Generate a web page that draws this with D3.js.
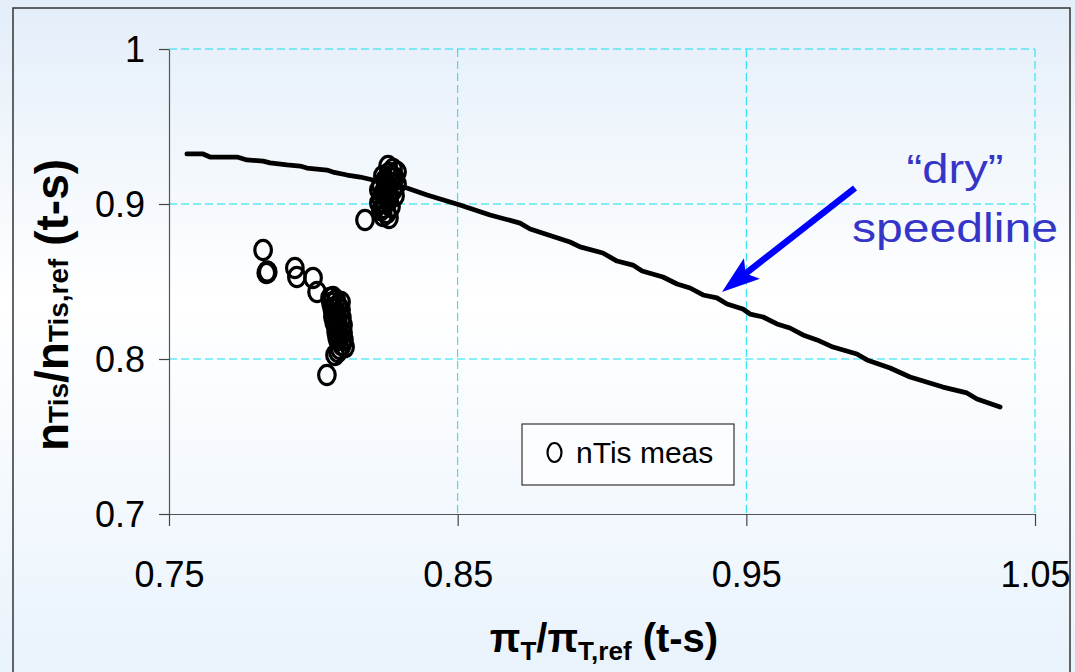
<!DOCTYPE html>
<html>
<head>
<meta charset="utf-8">
<script src="https://cdn.jsdelivr.net/npm/d3@7"></script>
<style>
  html, body { margin: 0; padding: 0; background: #ffffff; }
  svg { display: block; }
  text { font-family: "Liberation Sans", Arial, sans-serif; }
</style>
</head>
<body>
<svg id="chart" width="1075" height="672"></svg>
<script>
// ---- data ----
const xTickValues = [0.75, 0.85, 0.95, 1.05];
const xTickLabels = ["0.75", "0.85", "0.95", "1.05"];
const yTickValues = [0.7, 0.8, 0.9, 1.0];
const yTickLabels = ["0.7", "0.8", "0.9", "1"];

// "dry" speedline
const lineX = [0.7562, 0.7618, 0.7642, 0.7736, 0.7770, 0.7826, 0.7850, 0.7909, 0.7954, 0.7978,
  0.8047, 0.8068, 0.8117, 0.8162, 0.8207, 0.8324, 0.8394, 0.8508, 0.8612, 0.8716,
  0.8751, 0.8889, 0.8924, 0.9003, 0.9052, 0.9107, 0.9139, 0.9211, 0.9260, 0.9305,
  0.9350, 0.9398, 0.9433, 0.9488, 0.9513, 0.9558, 0.9606, 0.9651, 0.9696, 0.9745,
  0.9800, 0.9883, 0.9918, 0.9998, 1.0067, 1.0181, 1.0264, 1.0299, 1.0379];
const lineY = [0.9323, 0.9323, 0.9303, 0.9303, 0.9284, 0.9277, 0.9265, 0.9252, 0.9245, 0.9232,
  0.9219, 0.9206, 0.9187, 0.9174, 0.9155, 0.9103, 0.9058, 0.8994, 0.8929, 0.8877,
  0.8839, 0.8755, 0.8723, 0.8684, 0.8632, 0.8606, 0.8568, 0.8529, 0.8484, 0.8458,
  0.8413, 0.8394, 0.8355, 0.8323, 0.8290, 0.8271, 0.8226, 0.8200, 0.8155, 0.8123,
  0.8077, 0.8032, 0.7994, 0.7942, 0.7884, 0.7819, 0.7781, 0.7742, 0.7690];

// nTis meas points
const measX = [0.7826, 0.7837, 0.7840, 0.7842, 0.7936, 0.7943, 0.7999, 0.8013,
  0.8068, 0.8079, 0.8061, 0.8085, 0.8072, 0.8082, 0.8068, 0.8085, 0.8075, 0.8089,
  0.8079, 0.8092, 0.8085, 0.8099, 0.8092, 0.8075, 0.8047,
  0.8058, 0.8096, 0.8065, 0.8096, 0.8068, 0.8099, 0.8072, 0.8103, 0.8079, 0.8103,
  0.8082, 0.8106, 0.8110, 0.8085,
  0.8276, 0.8262, 0.8283, 0.8248, 0.8269, 0.8234, 0.8255, 0.8241, 0.8276, 0.8234,
  0.8248, 0.8241, 0.8255, 0.8241, 0.8262, 0.8179, 0.8262, 0.8269,
  0.8259, 0.8290, 0.8241, 0.8290, 0.8227, 0.8262, 0.8283, 0.8227, 0.8262, 0.8234,
  0.8269, 0.8248, 0.8272, 0.8251];
const measY = [0.8703, 0.8555, 0.8565, 0.8560, 0.8587, 0.8529, 0.8523, 0.8432,
  0.8400, 0.8381, 0.8361, 0.8348, 0.8323, 0.8297, 0.8271, 0.8252, 0.8226, 0.8200,
  0.8174, 0.8148, 0.8123, 0.8090, 0.8065, 0.8026, 0.7897,
  0.8394, 0.8368, 0.8329, 0.8316, 0.8297, 0.8265, 0.8239, 0.8219, 0.8200, 0.8168,
  0.8142, 0.8123, 0.8077, 0.8045,
  0.9226, 0.9200, 0.9168, 0.9155, 0.9135, 0.9116, 0.9103, 0.9071, 0.9090, 0.9039,
  0.9006, 0.8974, 0.8942, 0.8923, 0.8910, 0.8897, 0.9052, 0.9181,
  0.9245, 0.9206, 0.9181, 0.9129, 0.9090, 0.9071, 0.9052, 0.9006, 0.9026, 0.8961,
  0.8981, 0.9052, 0.9168, 0.9129];

const legendLabel = "nTis meas";
const annotationLines = ["\u201Cdry\u201D", "speedline"];

// ---- drawing ----
const svg = d3.select("#chart");
const W = 1075, H = 672;
const plot = { left: 169, right: 1035, top: 49, bottom: 514 };

const defs = svg.append("defs");
const grad = defs.append("linearGradient").attr("id", "bg").attr("x1", 0).attr("y1", 0).attr("x2", 0).attr("y2", 1);
grad.append("stop").attr("offset", "0%").attr("stop-color", "#e3eef9");
grad.append("stop").attr("offset", "45%").attr("stop-color", "#ffffff");
grad.append("stop").attr("offset", "100%").attr("stop-color", "#e9f3fc");

svg.append("rect").attr("x", 0).attr("y", 0).attr("width", W).attr("height", H).attr("fill", "url(#bg)");
svg.append("rect").attr("x", 13).attr("y", 8).attr("width", 1057).attr("height", 700)
  .attr("fill", "none").attr("stroke", "#333").attr("stroke-width", 1.5);

const x = d3.scaleLinear().domain([0.75, 1.05]).range([plot.left, plot.right]);
const y = d3.scaleLinear().domain([0.7, 1.0]).range([plot.bottom, plot.top]);

// gridlines
const grid = svg.append("g");
grid.selectAll("line.gx").data(xTickValues.slice(1)).join("line")
  .attr("x1", d => x(d)).attr("x2", d => x(d)).attr("y1", plot.top).attr("y2", plot.bottom)
  .attr("stroke", "#10e0f0").attr("stroke-width", 1).attr("stroke-dasharray", "8,4");
grid.selectAll("line.gy").data(yTickValues.slice(1)).join("line")
  .attr("y1", d => y(d)).attr("y2", d => y(d)).attr("x1", plot.left).attr("x2", plot.right)
  .attr("stroke", "#10e0f0").attr("stroke-width", 1).attr("stroke-dasharray", "8,4");

// axes
const xAxis = d3.axisBottom(x).tickValues(xTickValues).tickFormat((d, i) => xTickLabels[i])
  .tickSize(12).tickSizeOuter(0).tickPadding(20);
const yAxis = d3.axisLeft(y).tickValues(yTickValues).tickFormat((d, i) => yTickLabels[i])
  .tickSize(10).tickSizeOuter(0).tickPadding(14);

const gx = svg.append("g").attr("transform", `translate(0,${plot.bottom})`).call(xAxis);
const gy = svg.append("g").attr("transform", `translate(${plot.left},0)`).call(yAxis);
[gx, gy].forEach(g => {
  g.select(".domain").attr("stroke", "#555").attr("stroke-width", 1.2);
  g.selectAll(".tick line").attr("stroke", "#444").attr("stroke-width", 1.2);
  g.selectAll(".tick text").attr("fill", "#000").attr("font-size", 36)
    .attr("font-family", "'Liberation Sans', Arial, sans-serif");
});
gx.selectAll(".tick text").attr("dy", null).attr("y", 73);
gy.selectAll(".tick text").attr("dy", "0.36em");

// speedline
const pts = lineX.map((v, i) => [v, lineY[i]]);
svg.append("path").datum(pts)
  .attr("d", d3.line().x(d => x(d[0])).y(d => y(d[1])))
  .attr("fill", "none").attr("stroke", "#000").attr("stroke-width", 4.8)
  .attr("stroke-linejoin", "round").attr("stroke-linecap", "round");

// measured points
const meas = measX.map((v, i) => [v, measY[i]]);
svg.append("g").selectAll("ellipse").data(meas).join("ellipse")
  .attr("cx", d => x(d[0])).attr("cy", d => y(d[1]))
  .attr("rx", 8.3).attr("ry", 9.6)
  .attr("fill", "none").attr("stroke", "#000").attr("stroke-width", 3.2);

// legend
const lg = svg.append("g");
lg.append("rect").attr("x", 522).attr("y", 424).attr("width", 212).attr("height", 61)
  .attr("fill", "#fcfdff").attr("stroke", "#333").attr("stroke-width", 1.2);
lg.append("ellipse").attr("cx", 554.5).attr("cy", 452.5).attr("rx", 7).attr("ry", 9.5)
  .attr("fill", "none").attr("stroke", "#000").attr("stroke-width", 2.2);
lg.append("text").attr("x", 576).attr("y", 463).attr("font-size", 30).attr("fill", "#000")
  .text(legendLabel);

// annotation arrow
const ann = svg.append("g");
const ax0 = 855, ay0 = 188, ax1 = 722, ay1 = 292;
const ang = Math.atan2(ay1 - ay0, ax1 - ax0);
const headLen = 30, headW = 13;
const bx = ax1 - headLen * Math.cos(ang), by = ay1 - headLen * Math.sin(ang);
ann.append("line").attr("x1", ax0).attr("y1", ay0).attr("x2", bx + 6 * Math.cos(ang)).attr("y2", by + 6 * Math.sin(ang))
  .attr("stroke", "#0000ff").attr("stroke-width", 6.5);
const px = -Math.sin(ang), py = Math.cos(ang);
const notch = 8;
ann.append("path")
  .attr("d", `M${ax1},${ay1} L${bx + headW * px - notch * Math.cos(ang)},${by + headW * py - notch * Math.sin(ang)} L${bx},${by} L${bx - headW * px - notch * Math.cos(ang)},${by - headW * py - notch * Math.sin(ang)} Z`)
  .attr("fill", "#0000ff");

ann.append("text").attr("x", 955).attr("y", 183).attr("text-anchor", "middle")
  .attr("font-size", 40).attr("fill", "#3535c8")
  .attr("textLength", 97).attr("lengthAdjust", "spacingAndGlyphs").text(annotationLines[0]);
ann.append("text").attr("x", 955).attr("y", 242).attr("text-anchor", "middle")
  .attr("font-size", 40).attr("fill", "#3535c8")
  .attr("textLength", 206).attr("lengthAdjust", "spacingAndGlyphs").text(annotationLines[1]);

// axis titles
const xt = svg.append("text").attr("x", 604).attr("y", 652).attr("text-anchor", "middle")
  .attr("font-weight", "bold").attr("font-size", 40).attr("fill", "#000");
xt.append("tspan").text("\u03C0");
xt.append("tspan").attr("font-size", 26).attr("dy", 8).text("T");
xt.append("tspan").attr("dy", -8).text("/\u03C0");
xt.append("tspan").attr("font-size", 26).attr("dy", 8).text("T,ref");
xt.append("tspan").attr("dy", -8).text(" (t-s)");

const yt = svg.append("text").attr("transform", "translate(68,305) rotate(-90)").attr("text-anchor", "middle")
  .attr("font-weight", "bold").attr("font-size", 46).attr("fill", "#000");
yt.append("tspan").text("n");
yt.append("tspan").attr("font-size", 28).text("Tis");
yt.append("tspan").text("/n");
yt.append("tspan").attr("font-size", 28).text("Tis,ref");
yt.append("tspan").text(" (t-s)");
</script>
</body>
</html>
